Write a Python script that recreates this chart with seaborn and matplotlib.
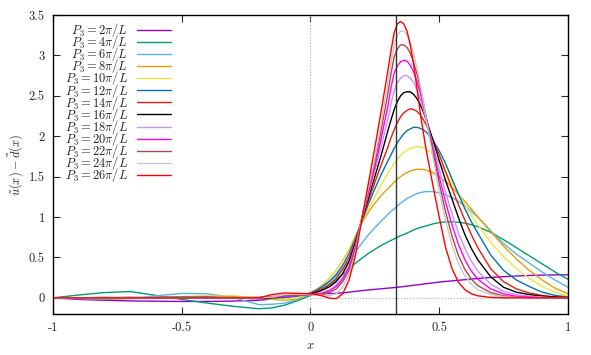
import matplotlib
matplotlib.use("Agg")
import matplotlib.pyplot as plt
from matplotlib.lines import Line2D
import pandas as pd
import seaborn as sns

# x grid of the sampled points (finer around the peaks)
x_vals = [-1, -0.9, -0.8, -0.7, -0.6, -0.5, -0.4, -0.3, -0.2, -0.15, -0.1, -0.05,
          0, 0.025, 0.05, 0.075, 0.1, 0.125, 0.15, 0.175, 0.2, 0.225, 0.25, 0.275,
          0.3, 0.3125, 0.325, 0.3375, 0.35, 0.3625, 0.375, 0.3875, 0.4, 0.4125, 0.425, 0.4375, 0.45,
          0.475, 0.5, 0.525, 0.55, 0.575, 0.6, 0.625, 0.65,
          0.7, 0.75, 0.8, 0.85, 0.9, 0.95, 1.0]

# u(x) - d(x) for each P3
p2 = [0, -0.02, -0.03, -0.038, -0.042, -0.045, -0.045, -0.04, -0.03, -0.015, 0.005, 0.03,
      0.042, 0.047, 0.05, 0.053, 0.056, 0.062, 0.07, 0.08, 0.09, 0.097, 0.105, 0.112,
      0.12, 0.123, 0.127, 0.131, 0.135, 0.14, 0.145, 0.15, 0.155, 0.16, 0.165, 0.17, 0.175,
      0.185, 0.195, 0.203, 0.21, 0.217, 0.225, 0.232, 0.24,
      0.252, 0.262, 0.27, 0.277, 0.281, 0.284, 0.285]
p4 = [0, 0.035, 0.065, 0.078, 0.03, -0.02, -0.065, -0.105, -0.135, -0.125, -0.09, -0.035,
      0.03, 0.07, 0.11, 0.16, 0.22, 0.29, 0.36, 0.43, 0.49, 0.55, 0.6, 0.65,
      0.69, 0.71, 0.73, 0.75, 0.77, 0.785, 0.8, 0.82, 0.84, 0.855, 0.87, 0.88, 0.89,
      0.915, 0.93, 0.94, 0.94, 0.935, 0.925, 0.905, 0.88,
      0.81, 0.72, 0.62, 0.52, 0.42, 0.32, 0.23]
p6 = [0, -0.01, -0.02, -0.01, 0.025, 0.055, 0.05, 0.005, -0.085, -0.08, -0.065, -0.02,
      0.05, 0.09, 0.14, 0.2, 0.27, 0.36, 0.46, 0.57, 0.68, 0.78, 0.87, 0.95,
      1.03, 1.07, 1.1, 1.14, 1.17, 1.2, 1.23, 1.25, 1.27, 1.29, 1.3, 1.31, 1.315,
      1.315, 1.3, 1.275, 1.24, 1.19, 1.14, 1.07, 1.0,
      0.83, 0.67, 0.54, 0.43, 0.32, 0.22, 0.13]
p8 = [0, -0.005, -0.01, -0.005, 0.005, 0.015, 0.02, 0.02, 0.0, -0.02, -0.03, -0.01,
      0.06, 0.11, 0.17, 0.25, 0.34, 0.46, 0.6, 0.77, 0.93, 1.06, 1.17, 1.27,
      1.35, 1.39, 1.43, 1.47, 1.5, 1.53, 1.55, 1.57, 1.58, 1.59, 1.59, 1.59, 1.58,
      1.55, 1.5, 1.44, 1.37, 1.28, 1.19, 1.1, 1.0,
      0.82, 0.64, 0.48, 0.34, 0.22, 0.12, 0.05]
p10 = [0, 0.0, -0.01, -0.01, 0.0, 0.01, 0.02, 0.02, 0.005, -0.01, -0.015, 0.0,
       0.06, 0.11, 0.17, 0.25, 0.34, 0.46, 0.6, 0.77, 0.94, 1.1, 1.25, 1.4,
       1.54, 1.6, 1.66, 1.72, 1.76, 1.8, 1.83, 1.85, 1.86, 1.87, 1.87, 1.86, 1.84,
       1.78, 1.68, 1.56, 1.43, 1.29, 1.15, 1.02, 0.9,
       0.69, 0.51, 0.36, 0.24, 0.14, 0.07, 0.02]
p12 = [0, -0.005, -0.01, -0.005, 0.005, 0.01, 0.01, 0.0, -0.01, -0.005, 0.005, 0.02,
       0.06, 0.1, 0.15, 0.21, 0.29, 0.4, 0.55, 0.74, 0.95, 1.16, 1.35, 1.53,
       1.69, 1.77, 1.85, 1.92, 1.98, 2.03, 2.07, 2.09, 2.11, 2.11, 2.1, 2.08, 2.05,
       1.95, 1.82, 1.66, 1.47, 1.28, 1.1, 0.94, 0.8,
       0.53, 0.34, 0.22, 0.14, 0.07, 0.03, 0.01]
p14 = [0, 0.0, 0.005, 0.0, -0.005, 0.0, 0.005, 0.0, -0.005, 0.0, 0.02, 0.035,
       0.055, 0.085, 0.12, 0.17, 0.24, 0.35, 0.5, 0.71, 0.96, 1.2, 1.43, 1.65,
       1.86, 1.98, 2.08, 2.17, 2.24, 2.29, 2.32, 2.34, 2.33, 2.31, 2.27, 2.21, 2.14,
       1.96, 1.77, 1.56, 1.35, 1.15, 0.96, 0.78, 0.62,
       0.36, 0.2, 0.11, 0.06, 0.03, 0.01, 0.005]
p16 = [0, 0.0, 0.0, 0.005, 0.0, -0.005, 0.0, 0.005, 0.0, 0.005, 0.02, 0.03,
       0.05, 0.07, 0.1, 0.14, 0.2, 0.3, 0.45, 0.68, 0.97, 1.24, 1.5, 1.77,
       2.06, 2.2, 2.33, 2.43, 2.5, 2.54, 2.55, 2.55, 2.52, 2.47, 2.4, 2.31, 2.2,
       1.96, 1.7, 1.45, 1.22, 0.99, 0.78, 0.61, 0.47,
       0.26, 0.13, 0.07, 0.04, 0.02, 0.01, 0.0]
p18 = [0, 0.0, 0.0, 0.0, 0.005, 0.0, -0.005, 0.0, 0.005, 0.01, 0.02, 0.03,
       0.04, 0.05, 0.07, 0.1, 0.16, 0.25, 0.4, 0.65, 0.98, 1.28, 1.57, 1.88,
       2.2, 2.4, 2.56, 2.66, 2.72, 2.75, 2.75, 2.72, 2.67, 2.58, 2.47, 2.34, 2.2,
       1.9, 1.6, 1.3, 1.04, 0.8, 0.61, 0.45, 0.33,
       0.17, 0.08, 0.04, 0.02, 0.01, 0.0, 0.0]
p20 = [0, 0.0, 0.0, 0.0, 0.0, 0.0, 0.0, 0.0, 0.0, 0.01, 0.02, 0.03,
       0.04, 0.045, 0.06, 0.09, 0.14, 0.23, 0.38, 0.63, 0.99, 1.3, 1.62, 1.98,
       2.36, 2.6, 2.78, 2.87, 2.92, 2.94, 2.93, 2.88, 2.8, 2.69, 2.55, 2.39, 2.22,
       1.86, 1.5, 1.18, 0.9, 0.66, 0.47, 0.33, 0.23,
       0.11, 0.05, 0.02, 0.01, 0.0, 0.0, 0.0]
p22 = [0, 0.0, 0.0, 0.0, 0.0, 0.0, 0.0, 0.0, 0.005, 0.015, 0.03, 0.035,
       0.04, 0.04, 0.045, 0.07, 0.11, 0.2, 0.34, 0.6, 1.0, 1.33, 1.67, 2.08,
       2.52, 2.77, 2.98, 3.08, 3.13, 3.13, 3.1, 3.03, 2.92, 2.78, 2.62, 2.43, 2.23,
       1.82, 1.42, 1.06, 0.76, 0.52, 0.35, 0.23, 0.15,
       0.065, 0.025, 0.01, 0.0, 0.0, 0.0, 0.0]
p24 = [0, 0.0, 0.0, 0.0, 0.0, 0.0, 0.0, 0.0, 0.0, 0.01, 0.04, 0.045,
       0.04, 0.035, 0.03, 0.03, 0.05, 0.13, 0.29, 0.57, 1.0, 1.36, 1.73, 2.17,
       2.65, 2.9, 3.13, 3.25, 3.3, 3.3, 3.26, 3.16, 3.03, 2.86, 2.66, 2.44, 2.2,
       1.75, 1.32, 0.95, 0.65, 0.42, 0.27, 0.17, 0.1,
       0.04, 0.015, 0.005, 0.0, 0.0, 0.0, 0.0]
p26 = [0, 0.0, 0.0, 0.0, 0.0, 0.0, 0.0, 0.0, 0.0, 0.04, 0.06, 0.055,
       0.05, 0.04, 0.02, -0.005, -0.01, 0.05, 0.22, 0.53, 0.98, 1.42, 1.86, 2.32,
       2.8, 3.05, 3.28, 3.39, 3.42, 3.39, 3.3, 3.13, 2.9, 2.62, 2.32, 2.06, 1.82,
       1.4, 1.0, 0.62, 0.36, 0.19, 0.1, 0.05, 0.025,
       0.005, 0.0, 0.0, 0.0, 0.0, 0.0, 0.0]

momenta = [2, 4, 6, 8, 10, 12, 14, 16, 18, 20, 22, 24, 26]
curves = [p2, p4, p6, p8, p10, p12, p14, p16, p18, p20, p22, p24, p26]
colors = ["#9400d3", "#009e73", "#56b4e9", "#e69f00", "#f0e442", "#0072b2",
          "#e51e10", "#000000", "#c890ff", "#ff00ff", "#b04848", "#c8c8c8",
          "#ff0000"]

assert all(len(c) == len(x_vals) for c in curves)

labels = [rf"$P_3 = {n}\pi/L$" for n in momenta]
df = pd.concat(
    [pd.DataFrame({"x": x_vals, "y": ys, "curve": lbl}) for lbl, ys in zip(labels, curves)],
    ignore_index=True,
)

sns.set_style("ticks")
plt.rcParams["font.family"] = "serif"
plt.rcParams["font.serif"] = ["cmr10"]
plt.rcParams["mathtext.fontset"] = "cm"
plt.rcParams["axes.unicode_minus"] = False

fig, ax = plt.subplots(figsize=(5.91, 3.55), dpi=100)
fig.subplots_adjust(left=0.0897, right=0.961, bottom=0.1155, top=0.9577)

# dotted zero lines
ax.axvline(0, color="#b0b0b0", ls=":", lw=0.8, zorder=1)
ax.axhline(0, color="#b0b0b0", ls=":", lw=0.8, zorder=1)

sns.lineplot(data=df, x="x", y="y", hue="curve", hue_order=labels,
             palette=dict(zip(labels, colors)), estimator=None, sort=False,
             lw=1.0, legend=False, ax=ax, zorder=2)

ax.axvline(1 / 3, color="#333333", lw=1.0, zorder=3)

# gnuplot-style key: text right-aligned, sample line after it
handles = [Line2D([], [], color=c, lw=1.0) for c in colors]
ax.legend(handles, labels, loc="upper right", bbox_to_anchor=(0.229, 0.98),
          frameon=False, markerfirst=False, handlelength=2.7, handletextpad=0.7,
          labelspacing=-0.47, fontsize=9, borderpad=0, borderaxespad=0)

ax.set_xlim(-1, 1)
ax.set_ylim(-0.2, 3.5)
ax.set_xticks([-1, -0.5, 0, 0.5, 1])
ax.set_xticklabels(["-1", "-0.5", "0", "0.5", "1"])
ax.set_yticks([0, 0.5, 1, 1.5, 2, 2.5, 3, 3.5])
ax.set_yticklabels(["0", "0.5", "1", "1.5", "2", "2.5", "3", "3.5"])
ax.tick_params(direction="in", top=True, right=True, length=5, width=0.8,
               labelsize=9, pad=6)
ax.set_xlabel(r"$x$", fontsize=9, labelpad=4)
ax.set_ylabel(r"$\tilde{u}(x) - \tilde{d}(x)$", fontsize=9, labelpad=3)
for s in ax.spines.values():
    s.set_linewidth(1.0)
    s.set_color("black")

fig.savefig("out.png", dpi=100)
